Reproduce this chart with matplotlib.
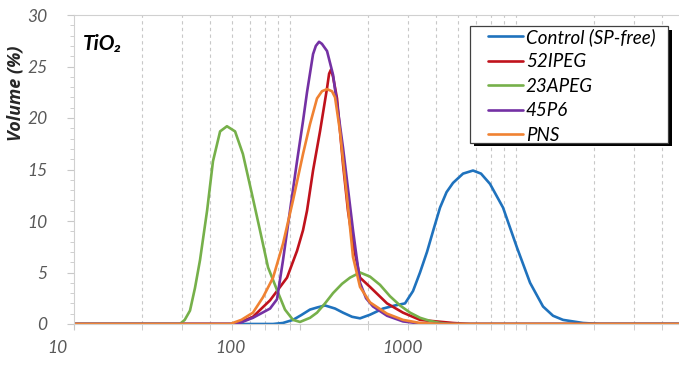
import numpy as np
import matplotlib
matplotlib.use("Agg")
import matplotlib.pyplot as plt
from matplotlib.patches import Rectangle
from matplotlib.ticker import LogLocator, NullFormatter, MultipleLocator

plt.rcParams['font.family'] = ['Lato', 'DejaVu Sans']

# particle size (nm) / volume (%) for each dispersion
control_x = [10, 76, 84, 93.1, 101, 110.7, 118.9, 129, 142.9, 155, 169.9, 184.3, 204,
             233, 263, 291.5, 316.2, 339.6, 364.7, 390, 416.4, 445, 475.4, 526.4,
             582.7, 632.2, 692.9, 791.2, 912.6, 1042, 1189, 1317, 1458, 1787, 2126, 5000]
control_y = [0, 0, 0.1, 0.4, 0.85, 1.4, 1.6, 1.8, 1.5, 1.1, 0.7, 0.55, 0.9,
             1.5, 1.8, 2.0, 3.2, 5.0, 7.0, 9.2, 11.3, 12.8, 13.7, 14.6,
             14.9, 14.6, 13.6, 11.3, 7.4, 4.0, 1.7, 0.8, 0.4, 0.1, 0, 0]

ipeg_x = [10, 50.5, 55.5, 61.9, 73.7, 87.6, 97, 103.1, 107.4, 114.2, 122.6, 131.7, 134.5,
          137.1, 140, 145.8, 155, 163, 171.6, 184.3, 204, 242.7, 285.6, 339.6, 475,
          565, 5000]
ipeg_y = [0, 0, 0.25, 0.7, 2.3, 4.5, 7.1, 9.1, 11.0, 14.9, 18.7, 22.9, 24.3,
          24.7, 24.0, 21.9, 15.5, 11.0, 7.8, 4.5, 3.6, 2.0, 1.1, 0.4, 0.1,
          0, 0]

apeg_x = [10, 29.4, 30.9, 32.6, 34.3, 36.1, 38.8, 41.2, 44.3, 47.5, 51.6, 55.9, 61.3,
          66.5, 72.2, 79.1, 85.8, 93.1, 100, 110.7, 118.9, 129, 140, 153.4, 166.4,
          184.3, 204, 226, 250, 277, 307, 340, 376, 416, 461, 5000]
apeg_y = [0, 0, 0.4, 1.3, 3.5, 6.2, 11.0, 15.8, 18.7, 19.2, 18.7, 16.5, 12.6,
          9.1, 5.5, 3.3, 1.4, 0.4, 0.2, 0.6, 1.1, 2.0, 3.0, 3.9, 4.5,
          5.0, 4.6, 3.8, 2.7, 1.8, 1.1, 0.6, 0.3, 0.1, 0, 0]

p6_x = [10, 52.6, 61.9, 73.7, 79.1, 84.1, 90.3, 97, 103.1, 107.4, 114.2, 117.5,
        121.4, 125, 131.7, 140, 155, 171.6, 184.3, 196, 210.4, 242.7, 285.6, 339.6,
        376, 5000]
p6_y = [0, 0, 0.6, 1.5, 2.4, 6.2, 11.0, 15.8, 19.7, 22.5, 26.2, 27.0,
        27.4, 27.2, 26.5, 24.2, 17.1, 9.1, 4.0, 2.5, 1.7, 0.8, 0.25, 0.05,
        0, 0]

pns_x = [10, 49, 55, 61.9, 68.6, 76, 84.1, 93.1, 103.1, 110.7, 118.9, 125.1, 131.7,
         138.5, 142.9, 150.3, 161.4, 171.6, 184.3, 204, 242.7, 285.6, 339.6, 416, 5000]
pns_y = [0, 0, 0.4, 1.1, 2.6, 4.5, 7.8, 12.0, 16.5, 19.4, 21.9, 22.6, 22.8,
         22.6, 22.0, 18.7, 12.3, 6.5, 3.6, 2.1, 1.0, 0.4, 0.1, 0, 0]

series = [
    ("Control (SP-free)", control_x, control_y, "#1f72bd"),
    ("52IPEG", ipeg_x, ipeg_y, "#c0121c"),
    ("23APEG", apeg_x, apeg_y, "#76b04a"),
    ("45P6", p6_x, p6_y, "#7431a4"),
    ("PNS", pns_x, pns_y, "#f08232"),
]
xtick_vals = [10, 100, 1000]
ytick_vals = [0, 5, 10, 15, 20, 25, 30]

fig = plt.figure(figsize=(6.79, 3.76), dpi=100)
ax = fig.add_axes([74/679, 52/376, 610/679, 309/376])

for name, xs, ys, c in series:
    ax.plot(xs, ys, color=c, lw=1.9, label=name,
            solid_capstyle='round', solid_joinstyle='round')

ax.set_xscale('log')
ax.set_xlim(10, 5000)
ax.set_ylim(0, 30)

# dashed minor grid only
ax.xaxis.set_major_locator(LogLocator(base=10))
ax.xaxis.set_minor_locator(LogLocator(base=10, subs=np.arange(2, 10)))
ax.xaxis.set_major_formatter(NullFormatter())
ax.xaxis.set_minor_formatter(NullFormatter())
ax.grid(True, which='minor', axis='x', color='#c8c8c8', ls=(0, (3, 3)), lw=0.8)
ax.set_axisbelow(True)

ax.set_yticks(ytick_vals)
ax.yaxis.set_minor_locator(MultipleLocator(1))
ax.set_yticklabels([str(v) for v in ytick_vals], fontsize=12.5, style='italic', color='#595959')
ax.tick_params(axis='y', which='major', length=5, color='#c8c8c8', pad=14)
ax.tick_params(axis='y', which='minor', length=3, color='#c8c8c8')
ax.tick_params(axis='x', which='both', length=4, color='#c8c8c8', direction='out')

# size labels under the axis
xlab_pos = [-0.028, 0.256, 0.538]
for v, px in zip(xtick_vals, xlab_pos):
    ax.text(px, -0.078, str(v), transform=ax.transAxes, ha='center', va='center',
            fontsize=12.5, style='italic', color='#595959')

for s in ['left', 'bottom', 'top']:
    ax.spines[s].set_color('#d0d0d0')
    ax.spines[s].set_linewidth(0.8)
ax.spines['right'].set_visible(False)

fig.text(16/679, 1 - 93/376, "Volume (%)", rotation=90, ha='center', va='center',
         fontsize=13, fontweight='bold', style='italic', color='#262626',
         family=['Open Sans', 'DejaVu Sans'])
ax.text(0.015, 0.905, "TiO\u2082", transform=ax.transAxes, ha='left', va='center',
        fontsize=15, fontweight='bold', style='italic', color='#000000')

# legend box with a hard black drop shadow
bx0, bx1, by0, by1 = 0.649, 0.974, 0.586, 0.964
ax.add_patch(Rectangle((bx0 + 0.006, by0 - 0.011), bx1 - bx0, by1 - by0,
                       transform=ax.transAxes, facecolor='black', edgecolor='none',
                       zorder=6))
ax.add_patch(Rectangle((bx0, by0), bx1 - bx0, by1 - by0, transform=ax.transAxes,
                       facecolor='white', edgecolor='#404040', lw=0.9, zorder=6.1))
leg = ax.legend(loc='upper left', bbox_to_anchor=(0.6787, 0.958), frameon=False,
                prop={'style': 'italic', 'size': 13.5}, borderpad=0,
                labelspacing=0.4, handlelength=1.87, handletextpad=0.15,
                borderaxespad=0)
leg.set_zorder(7)

fig.savefig("out.png", dpi=100)
